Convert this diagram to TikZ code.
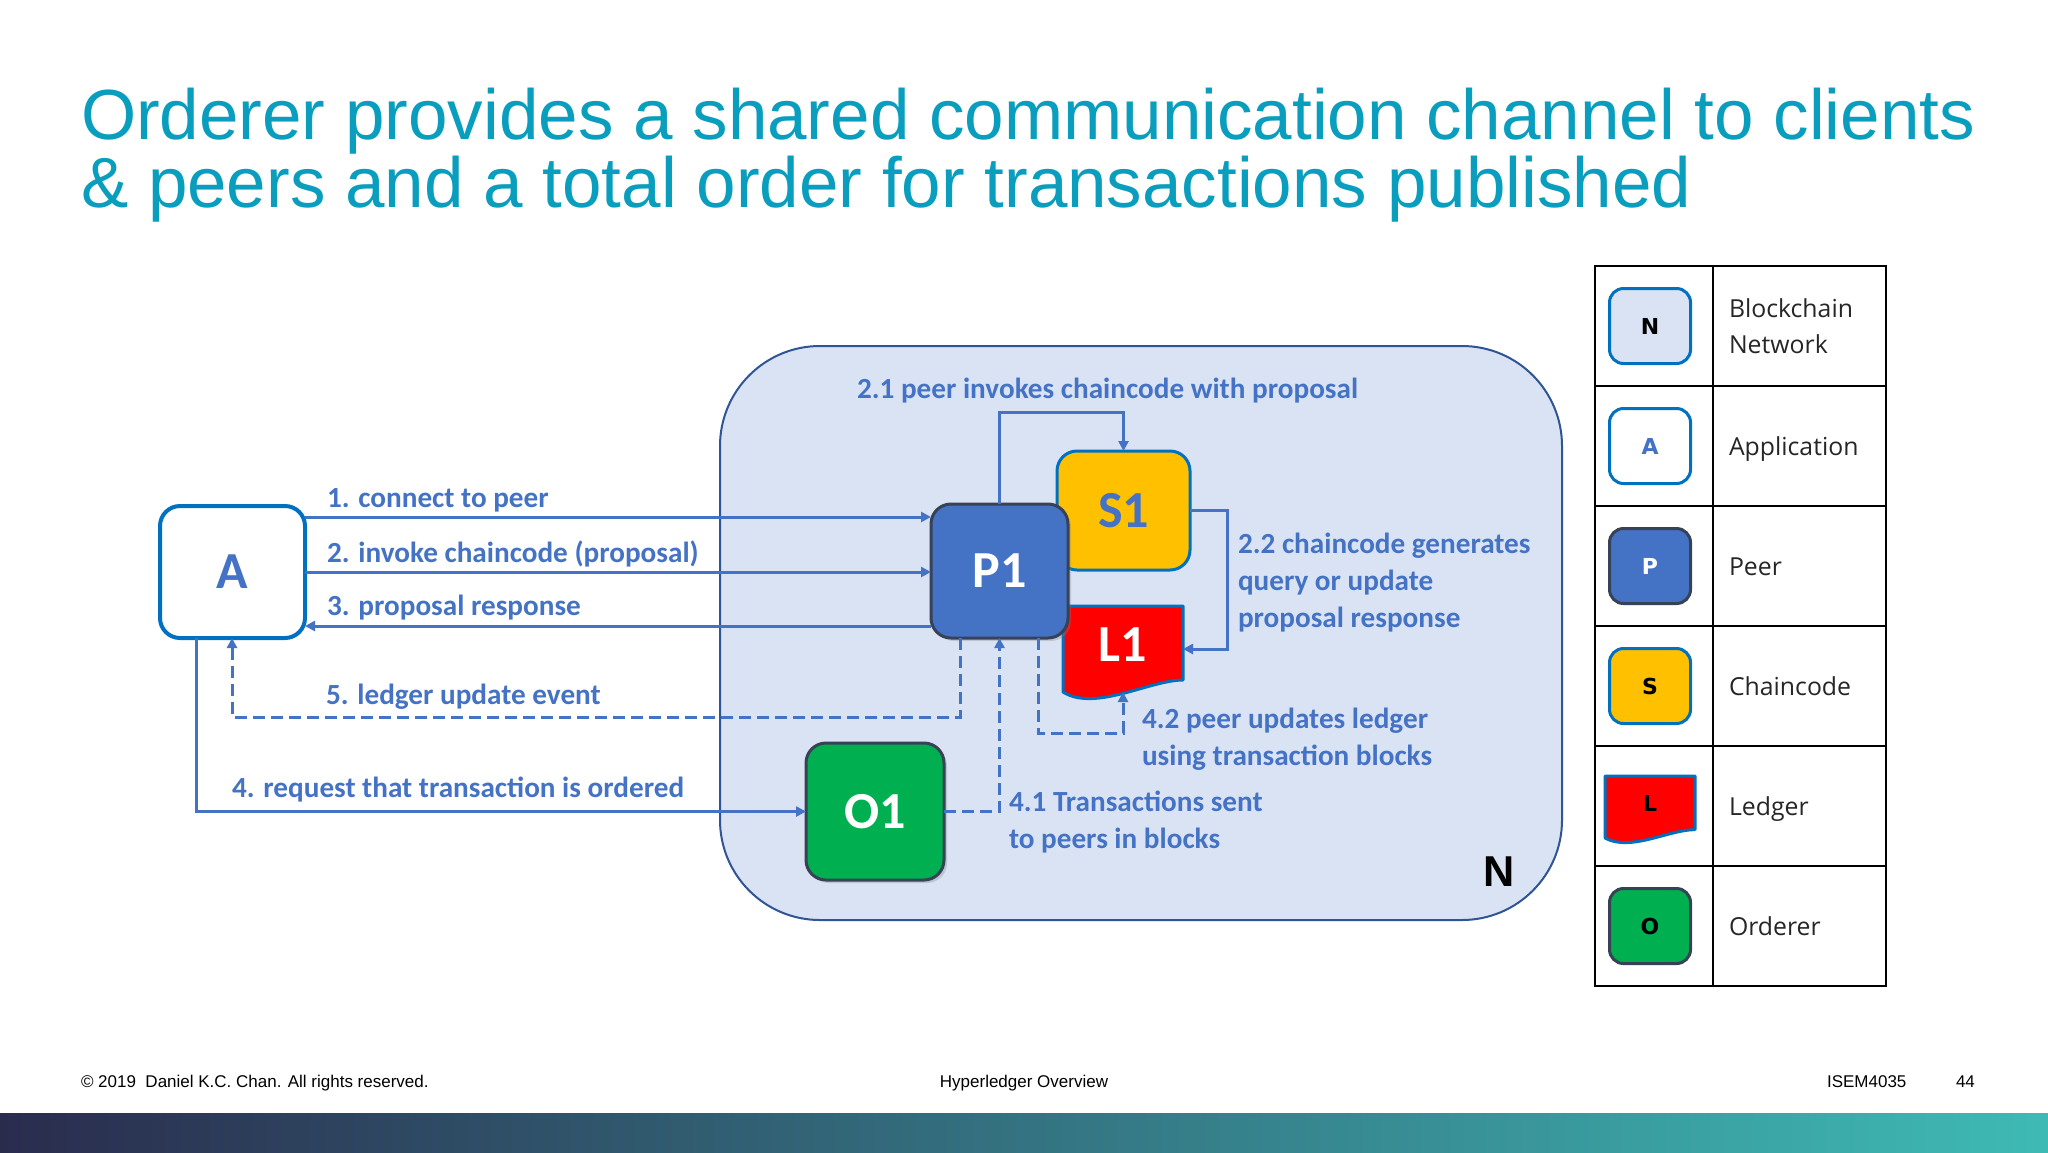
\documentclass[tikz,border=0pt]{standalone}
\usepackage{fontspec}
\setmainfont{Liberation Sans}
\newfontfamily\calfont{Carlito}
\newfontfamily\keyfont{Open Sans}
\newfontfamily\iconfont{DejaVu Sans}
\usetikzlibrary{calc,arrows.meta,shadows}

\definecolor{titleblue}{RGB}{9,158,190}
\definecolor{flowblue}{RGB}{68,114,196}
\definecolor{edgeblue}{RGB}{0,112,192}
\definecolor{netfill}{RGB}{218,227,243}
\definecolor{netline}{RGB}{47,85,151}
\definecolor{slate}{RGB}{56,66,86}
\definecolor{codeyellow}{RGB}{255,192,0}
\definecolor{ordergreen}{RGB}{0,176,80}
\definecolor{barnavy}{RGB}{42,44,78}
\definecolor{barteal}{RGB}{62,186,180}

\newcommand\ledgershape[2]{%
  \filldraw[fill=red,draw=edgeblue,line width=1.5pt,line join=round]
    (#1.north west) -- (#1.north east) -- ([yshift=#2*6pt]#1.south east)
    .. controls ([xshift=#2*13.5pt,yshift=#2*6pt]#1.south) and ([xshift=-#2*14pt,yshift=-#2*10pt]#1.south) .. (#1.south west) -- cycle;}

\begin{document}
\begin{tikzpicture}
        [x=0.5pt,y=-0.5pt,
        every node/.style={inner sep=0pt,outer sep=0pt},
        netbox/.style={draw=netline,fill=netfill,line width=1pt,rounded corners=50pt,minimum width=421pt,minimum height=287pt},
        tile/.style={rounded corners=10pt,line width=1.5pt,font=\calfont\bfseries\fontsize{26}{30}\selectfont},
        appbox/.style={tile,draw=edgeblue,fill=white,line width=2pt,text=flowblue,minimum width=72.5pt,minimum height=66pt},
        peerbox/.style={tile,draw=slate,fill=flowblue,text=white,minimum width=68.5pt,minimum height=67pt,
          drop shadow={shadow xshift=1.5pt,shadow yshift=-1.5pt,opacity=.3}},
        codebox/.style={tile,draw=edgeblue,fill=codeyellow,text=flowblue,minimum width=66.5pt,minimum height=59.5pt},
        ledgerbox/.style={minimum width=60pt,minimum height=43pt},
        orderbox/.style={tile,draw=slate,fill=ordergreen,text=white,minimum width=69pt,minimum height=68.5pt,
          drop shadow={shadow xshift=1.5pt,shadow yshift=-1.5pt,opacity=.3}},
        flow/.style={draw=flowblue,line width=1.5pt,-{Triangle[length=5pt,width=5pt]}},
        dashflow/.style={flow,dash pattern=on 6pt off 3pt},
        steptext/.style={anchor=base west,text=flowblue,align=left,font=\calfont\bfseries\fontsize{14.6}{18.3}\selectfont},
        keyicon/.style={rounded corners=7pt,line width=1.5pt,minimum width=40.5pt,minimum height=37.5pt,font=\iconfont\bfseries\fontsize{11}{13}\selectfont},
        keytext/.style={anchor=base west,text=black!85,align=left,font=\keyfont\fontsize{12.4}{18}\selectfont},
        foot/.style={anchor=base west,font=\fontsize{8.5}{10}\selectfont}]
        \useasboundingbox (0,0) rectangle (2048,1152);
        \fill[white] (0,0) rectangle (2048,1152);
        \node[anchor=base west,align=left,text=titleblue,font=\fontsize{35.5}{34}\selectfont] (title) at (81,207)
          {Orderer provides a shared communication channel to clients\\\& peers and a total order for transactions published};

        \node[netbox] (net) at (1141,633) {};
        \node[anchor=base west,font=\bfseries\fontsize{21.6}{24}\selectfont] (netlbl) at (1483,886) {N};
        \node[appbox] (A) at (232.5,572) {A};
        \node[codebox] (S1) at (1123.5,510.5) {S1};
        \node[ledgerbox] (L1) at (1123,649) {};
        \ledgershape{L1}{1}
        \node[tile,text=white] (L1txt) at ([yshift=2pt]L1.center) {L1};
        \node[peerbox] (P1) at (999.5,571) {P1};
        \node[orderbox] (O1) at (875,811.5) {O1};

        \draw[flow] (A.east |- 0,517) -- (P1.west |- 0,517);
        \draw[flow] (A.east) -- (A.east -| P1.west);
        \draw[flow] (P1.west |- 0,626) -- (A.east |- 0,626);
        \draw[flow] (A.south -| 196,0) |- (O1.west);
        \draw[dashflow] (P1.south -| 960,0) |- (232,717) -- (A.south -| 232,0);
        \draw[flow] (P1.north) |- (S1.north |- 0,412) -- (S1.north);
        \draw[flow] (S1.east) -- ++(37,0) |- (L1.east);
        \draw[dashflow] (O1.east) -| (P1.south);
        \draw[dashflow] (P1.south -| 1038,0) |- (L1.south |- 0,733) -- (L1.south);

        \node[steptext] (s1) at (327,507) {1. connect to peer};
        \node[steptext] (s2) at (327,562) {2. invoke chaincode (proposal)};
        \node[steptext] (s3) at (327,615) {3. proposal response};
        \node[steptext] (s4) at (232,797) {4. request that transaction is ordered};
        \node[steptext] (s5) at (326,704) {5. ledger update event};
        \node[steptext] (s21) at (857,398) {2.1 peer invokes chaincode with proposal};
        \node[steptext] (s22) at (1238,627) {2.2 chaincode generates\\query or update\\proposal response};
        \node[steptext] (s41) at (1009,848) {4.1 Transactions sent\\to peers in blocks};
        \node[steptext] (s42) at (1142,765) {4.2 peer updates ledger\\using transaction blocks};

        \draw[line width=1pt] (1595,266) rectangle (1886,986);
        \foreach \y in {386,506,626,746,866}
          \draw[line width=1pt] (1595,\y) -- (1886,\y);
        \draw[line width=1pt] (1713,266) -- (1713,986);
        \node[keyicon,draw=edgeblue,fill=netfill] (kN) at (1650,326) {N};
        \node[keyicon,draw=edgeblue,fill=white,text=flowblue] (kA) at (1650,446) {A};
        \node[keyicon,draw=slate,fill=flowblue,text=white] (kP) at (1650,566) {P};
        \node[keyicon,draw=edgeblue,fill=codeyellow] (kS) at (1650,686) {S};
        \node[minimum width=45pt,minimum height=31pt] (kL) at (1650,807) {};
        \ledgershape{kL}{0.7}
        \node[keyicon,draw=none] (kLtxt) at ([yshift=2pt]kL.center) {L};
        \node[keyicon,draw=slate,fill=ordergreen] (kO) at (1650,926) {O};
        \node[keytext] (keyNet) at (1729,353) {Blockchain\\Network};
        \foreach \t/\y in {Application/455,Peer/575,Chaincode/695,Ledger/815,Orderer/935}
          \node[keytext] (key\t) at (1729,\y) {\t};

        \node[foot] (copy) at (81,1087) {© 2019\ \ Daniel K.C. Chan. All rights reserved.};
        \node[foot,anchor=base] (topic) at (1024,1087) {Hyperledger Overview};
        \node[foot] (course) at (1827,1087) {ISEM4035};
        \node[foot] (page) at (1956,1087) {44};
        \shade[left color=barnavy,right color=barteal] (0,1113) rectangle (2048,1152);
\end{tikzpicture}
\end{document}
